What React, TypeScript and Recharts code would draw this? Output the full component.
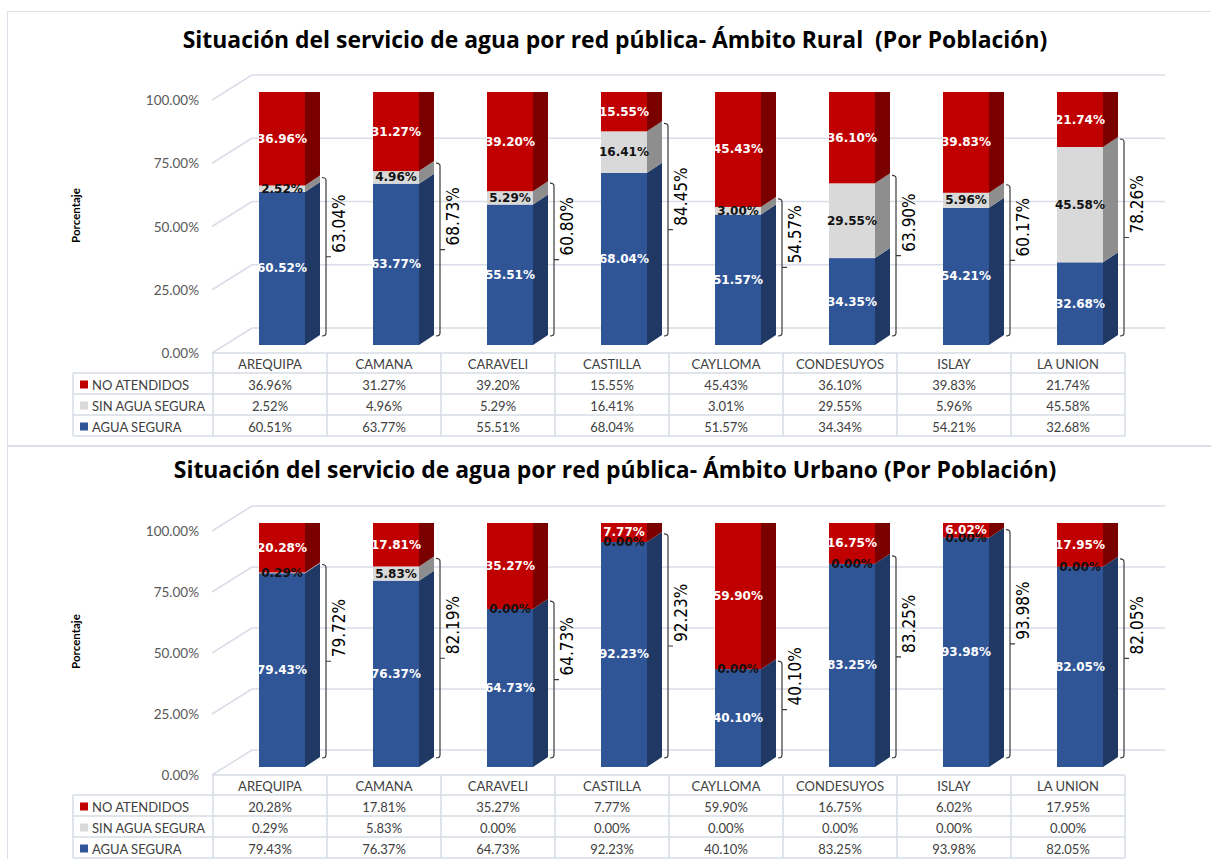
import React from 'react';
import { BarChart, Bar, XAxis, YAxis, CartesianGrid, LabelList } from 'recharts';

const categories = ['AREQUIPA', 'CAMANA', 'CARAVELI', 'CASTILLA', 'CAYLLOMA', 'CONDESUYOS', 'ISLAY', 'LA UNION'];

// Rural - values printed on the bars
const ruralAgua = [60.52, 63.77, 55.51, 68.04, 51.57, 34.35, 54.21, 32.68];
const ruralSinAgua = [2.52, 4.96, 5.29, 16.41, 3.0, 29.55, 5.96, 45.58];
const ruralNoAtendidos = [36.96, 31.27, 39.2, 15.55, 45.43, 36.1, 39.83, 21.74];
const ruralConServicio = [63.04, 68.73, 60.8, 84.45, 54.57, 63.9, 60.17, 78.26];

// Rural - values in the data table
const ruralTablaNoAtendidos = [36.96, 31.27, 39.2, 15.55, 45.43, 36.1, 39.83, 21.74];
const ruralTablaSinAgua = [2.52, 4.96, 5.29, 16.41, 3.01, 29.55, 5.96, 45.58];
const ruralTablaAgua = [60.51, 63.77, 55.51, 68.04, 51.57, 34.34, 54.21, 32.68];

// Urbano
const urbanoAgua = [79.43, 76.37, 64.73, 92.23, 40.1, 83.25, 93.98, 82.05];
const urbanoSinAgua = [0.29, 5.83, 0, 0, 0, 0, 0, 0];
const urbanoNoAtendidos = [20.28, 17.81, 35.27, 7.77, 59.9, 16.75, 6.02, 17.95];
const urbanoConServicio = [79.72, 82.19, 64.73, 92.23, 40.1, 83.25, 93.98, 82.05];

const yTicks = [0, 25, 50, 75, 100];

const PAGE_W = 1211;
const PLOT_LEFT = 225;
const PLOT_RIGHT = 1137;
const Y_AXIS_W = 60;
const DX = 15; // bar depth
const DY = 10;
const GRID_LEFT = 252;
const GRID_RIGHT = 1165;
const TABLE_LEFT = 73;
const LEGEND_W = 140;
const COL_W = 114;

const BLUE = { front: '#2F5597', side: '#1F3864' };
const GRAY = { front: '#D9D9D9', side: '#8E8E8E' };
const RED = { front: '#C00000', side: '#7A0000', top: '#940000' };

const fmt = (v: number) => `${v.toFixed(2)}%`;

const box3d = (c: { front: string; side: string; top?: string }) => (props: any) => {
  const { x, y, width: w, height: h } = props;
  if (h == null || isNaN(h)) return null;
  return (
    <g>
      <rect x={x} y={y} width={w} height={h} fill={c.front} />
      <polygon
        points={`${x + w},${y} ${x + w + DX},${y - DY} ${x + w + DX},${y + h - DY} ${x + w},${y + h}`}
        fill={c.side}
      />
      {c.top && (
        <polygon points={`${x},${y} ${x + DX},${y - DY} ${x + w + DX},${y - DY} ${x + w},${y}`} fill={c.top} />
      )}
    </g>
  );
};

const barLabel = (color: string) => (props: any) => {
  const { x, y, width, height, value } = props;
  return (
    <text
      x={x + width / 2}
      y={y + height / 2}
      textAnchor="middle"
      dominantBaseline="central"
      fill={color}
      style={{ fontFamily: 'DejaVu Sans, Verdana, sans-serif', fontWeight: 700, fontSize: 12 }}
    >
      {fmt(Number(value))}
    </text>
  );
};

// bracket beside each bar covering agua segura + sin agua segura
const Brace = (props: any) => {
  const { x, y, width, height, payload } = props;
  if (height == null || isNaN(height)) return null;
  const cx = x + width / 2;
  const top = y - 8;
  const bot = y + height - 9;
  const mid = (top + bot) / 2;
  const vx = cx + 44;
  return (
    <g>
      <path
        d={`M${vx - 4},${top} Q${vx},${top} ${vx},${top + 3} L${vx},${bot - 3} Q${vx},${bot} ${vx - 4},${bot} M${vx},${mid} L${vx + 5},${mid}`}
        stroke="#3a3a3a"
        strokeWidth={1.2}
        fill="none"
      />
      <text
        transform={`translate(${cx + 57},${mid - 4}) rotate(-90)`}
        textAnchor="start"
        dominantBaseline="central"
        fill="#000"
        style={{ fontFamily: "'Liberation Sans Narrow', 'DejaVu Sans Condensed', sans-serif", fontSize: 17 }}
      >
        {fmt(payload.brace)}
      </text>
    </g>
  );
};

const gridLine = (p: any) => {
  const fy = p.y1;
  return (
    <g key={`g-${p.index}-${fy}`}>
      <line x1={212} y1={fy + 8} x2={GRID_LEFT} y2={fy - 17} stroke="#D9DDE8" strokeWidth={1.5} />
      <line x1={GRID_LEFT} y1={fy - 17} x2={GRID_RIGHT} y2={fy - 17} stroke="#D9DDE8" strokeWidth={1.5} />
    </g>
  );
};

const yTick = (p: any) => (
  <text
    x={199}
    y={p.y + 8}
    textAnchor="end"
    dominantBaseline="central"
    fill="#595959"
    style={{ fontFamily: 'Lato, sans-serif', fontSize: 13.5 }}
  >
    {fmt(p.payload.value)}
  </text>
);

interface PanelProps {
  title: string;
  top: number;
  height: number;
  plotTop: number;
  plotBottom: number;
  titleY: number;
  tableTop: number;
  agua: number[];
  sinAgua: number[];
  noAtendidos: number[];
  conServicio: number[];
  tabla: { label: string; color: string; values: number[] }[];
}

function DataTable({ tableTop, tabla }: { tableTop: number; tabla: PanelProps['tabla'] }) {
  const right = TABLE_LEFT + LEGEND_W + COL_W * categories.length;
  const headH = 20;
  const rowH = 21;
  const ys = [tableTop, tableTop + headH, tableTop + headH + rowH, tableTop + headH + rowH * 2, tableTop + headH + rowH * 3];
  const stroke = '#D6DCE5';
  const txt = { fontFamily: 'Lato, sans-serif', fontSize: 13, fill: '#404040' };
  return (
    <g>
      <line x1={TABLE_LEFT + LEGEND_W} y1={ys[0]} x2={right} y2={ys[0]} stroke={stroke} strokeWidth={1.5} />
      {ys.slice(1).map((y) => (
        <line key={y} x1={TABLE_LEFT} y1={y} x2={right} y2={y} stroke={stroke} strokeWidth={1.5} />
      ))}
      <line x1={TABLE_LEFT} y1={ys[1]} x2={TABLE_LEFT} y2={ys[4]} stroke={stroke} strokeWidth={1.5} />
      {categories.map((_, i) => (
        <line
          key={i}
          x1={TABLE_LEFT + LEGEND_W + COL_W * i}
          y1={ys[0]}
          x2={TABLE_LEFT + LEGEND_W + COL_W * i}
          y2={ys[4]}
          stroke={stroke}
          strokeWidth={1.5}
        />
      ))}
      <line x1={right} y1={ys[0]} x2={right} y2={ys[4]} stroke={stroke} strokeWidth={1.5} />
      {categories.map((c, i) => (
        <text
          key={c}
          x={TABLE_LEFT + LEGEND_W + COL_W * i + COL_W / 2}
          y={(ys[0] + ys[1]) / 2 + 1}
          textAnchor="middle"
          dominantBaseline="central"
          style={txt}
        >
          {c}
        </text>
      ))}
      {tabla.map((row, r) => {
        const cy = (ys[r + 1] + ys[r + 2]) / 2 + 1;
        return (
          <g key={row.label}>
            <rect x={TABLE_LEFT + 7} y={cy - 4} width={8} height={8} fill={row.color} />
            <text x={TABLE_LEFT + 19} y={cy} dominantBaseline="central" style={txt}>
              {row.label}
            </text>
            {row.values.map((v, i) => (
              <text
                key={i}
                x={TABLE_LEFT + LEGEND_W + COL_W * i + COL_W / 2}
                y={cy}
                textAnchor="middle"
                dominantBaseline="central"
                style={txt}
              >
                {fmt(v)}
              </text>
            ))}
          </g>
        );
      })}
    </g>
  );
}

function Panel(p: PanelProps) {
  const data = categories.map((name, i) => ({
    name,
    agua: p.agua[i],
    sinAgua: p.sinAgua[i],
    noAtendidos: p.noAtendidos[i],
    brace: p.conServicio[i],
  }));
  return (
    <div style={{ position: 'absolute', left: 0, top: p.top, width: PAGE_W, height: p.height }}>
      <div
        style={{
          position: 'absolute',
          left: 0,
          width: 1230,
          top: p.titleY - 15,
          textAlign: 'center',
          whiteSpace: 'pre',
          fontFamily: "'Open Sans', sans-serif",
          fontWeight: 700,
          fontSize: 22.9,
          lineHeight: '30px',
          color: '#000',
        }}
      >
        {p.title}
      </div>
      <div
        style={{
          position: 'absolute',
          left: 75 - 40,
          top: (p.plotTop + p.plotBottom) / 2 - 10,
          width: 80,
          textAlign: 'center',
          transform: 'rotate(-90deg)',
          fontFamily: 'Lato, sans-serif',
          fontWeight: 700,
          fontSize: 11.5,
          color: '#000',
        }}
      >
        Porcentaje
      </div>
      <div style={{ position: 'absolute', left: 0, top: 0 }}>
        <BarChart
          width={PAGE_W}
          height={p.height}
          data={data}
          barCategoryGap={0}
          margin={{
            top: p.plotTop,
            bottom: p.height - p.plotBottom,
            left: PLOT_LEFT - Y_AXIS_W,
            right: PAGE_W - PLOT_RIGHT,
          }}
        >
          <CartesianGrid vertical={false} horizontal={gridLine} />
          <XAxis dataKey="name" hide />
          <XAxis dataKey="name" hide xAxisId="brace" />
          <YAxis
            width={Y_AXIS_W}
            domain={[0, 100]}
            ticks={yTicks}
            allowDataOverflow
            axisLine={false}
            tickLine={false}
            tick={yTick}
          />
          <Bar dataKey="agua" stackId="a" barSize={46} shape={box3d(BLUE)} isAnimationActive={false}>
            <LabelList dataKey="agua" content={barLabel('#fff')} />
          </Bar>
          <Bar dataKey="sinAgua" stackId="a" barSize={46} shape={box3d(GRAY)} isAnimationActive={false}>
            <LabelList dataKey="sinAgua" content={barLabel('#111')} />
          </Bar>
          <Bar dataKey="noAtendidos" stackId="a" barSize={46} shape={box3d(RED)} isAnimationActive={false}>
            <LabelList dataKey="noAtendidos" content={barLabel('#fff')} />
          </Bar>
          <Bar dataKey="brace" xAxisId="brace" barSize={2} shape={Brace} isAnimationActive={false} />
        </BarChart>
      </div>
      <svg
        width={PAGE_W}
        height={p.height}
        style={{ position: 'absolute', left: 0, top: 0, pointerEvents: 'none' }}
      >
        <DataTable tableTop={p.tableTop} tabla={p.tabla} />
      </svg>
    </div>
  );
}

export default function App() {
  return (
    <div style={{ position: 'absolute', left: 0, top: 0, width: PAGE_W, height: 859, background: '#fff', overflow: 'hidden' }}>
      <div
        style={{
          position: 'absolute',
          left: 7,
          top: 11,
          width: 1400,
          height: 1000,
          border: '1.5px solid #DCE0E8',
        }}
      />
      <div style={{ position: 'absolute', left: 8, top: 445, width: 1400, height: 2, background: '#DCE0E8' }} />
      <Panel
        title="Situación del servicio de agua por red pública- Ámbito Rural  (Por Población)"
        top={0}
        height={446}
        plotTop={92}
        plotBottom={345}
        titleY={40}
        tableTop={353}
        agua={ruralAgua}
        sinAgua={ruralSinAgua}
        noAtendidos={ruralNoAtendidos}
        conServicio={ruralConServicio}
        tabla={[
          { label: 'NO ATENDIDOS', color: RED.front, values: ruralTablaNoAtendidos },
          { label: 'SIN AGUA SEGURA', color: GRAY.front, values: ruralTablaSinAgua },
          { label: 'AGUA SEGURA', color: BLUE.front, values: ruralTablaAgua },
        ]}
      />
      <Panel
        title="Situación del servicio de agua por red pública- Ámbito Urbano (Por Población)"
        top={446}
        height={413}
        plotTop={77}
        plotBottom={321}
        titleY={24}
        tableTop={329}
        agua={urbanoAgua}
        sinAgua={urbanoSinAgua}
        noAtendidos={urbanoNoAtendidos}
        conServicio={urbanoConServicio}
        tabla={[
          { label: 'NO ATENDIDOS', color: RED.front, values: urbanoNoAtendidos },
          { label: 'SIN AGUA SEGURA', color: GRAY.front, values: urbanoSinAgua },
          { label: 'AGUA SEGURA', color: BLUE.front, values: urbanoAgua },
        ]}
      />
    </div>
  );
}
